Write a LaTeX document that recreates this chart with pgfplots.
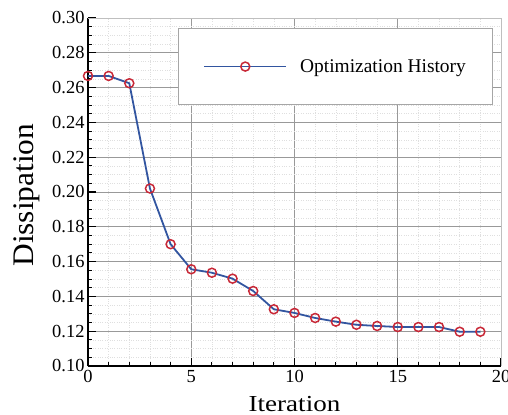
\documentclass[border=0pt]{standalone}
\usepackage{pgfplots}
\pgfplotsset{compat=1.18}
\usepackage{fontspec}
\setmainfont{Liberation Serif}
\definecolor{lblue}{RGB}{50,85,160}
\definecolor{mred}{RGB}{200,40,55}
\begin{document}
\begin{tikzpicture}
\path[use as bounding box] (-88bp,-49bp) rectangle (420bp,366bp);
\begin{axis}[
  scale only axis,
  width=413bp, height=348bp,
  xmin=0, xmax=20, ymin=0.10, ymax=0.30,
  xtick={0,5,10,15,20},
  ytick={0.10,0.12,0.14,0.16,0.18,0.20,0.22,0.24,0.26,0.28,0.30},
  yticklabel style={/pgf/number format/fixed, /pgf/number format/fixed zerofill, /pgf/number format/precision=2},
  /pgf/number format/assume math mode=true,
  minor x tick num=4, minor y tick num=3,
  tick align=inside,
  major tick length=8bp, minor tick length=4bp,
  tick style={black, line width=1.4pt},
  minor tick style={black, line width=0.9pt},
  axis x line*=bottom, axis y line*=left,
  axis line style={black, line width=2pt, -},
  grid=both,
  major grid style={gray!80, line width=0.6pt},
  minor grid style={gray!25, dotted, line width=0.5pt},
  ticklabel style={font=\fontsize{18.5}{20}\selectfont},
  xticklabel style={yshift=-1bp},
  xlabel={\scalebox{1.18}[1]{Iteration}},
  ylabel={\scalebox{1.05}[1]{Dissipation}},
  xlabel style={font=\fontsize{23}{25}\selectfont, at={(axis description cs:0.5,-0.1313)}, anchor=base, inner sep=0pt},
  ylabel style={font=\fontsize{30}{32}\selectfont, at={(axis description cs:-0.133,0.491)}, anchor=base},
  legend style={draw=gray!70, line width=0.8pt, fill=white, at={(90/413,1-10/348)}, anchor=north west,
    inner xsep=10bp, inner ysep=29bp, font=\fontsize{19.5}{21}\selectfont},
  legend cell align=left,
  legend image code/.code={\path (0bp,0bp); \draw[mark repeat=2,mark phase=2,#1] plot coordinates {(15bp,0bp) (56bp,0bp) (97bp,0bp)};},
  clip=false,
]
\draw[gray!50, line width=0.8pt] (rel axis cs:0,1) -- (rel axis cs:1,1) -- (rel axis cs:1,0);
\addplot[lblue, line width=1.8pt, mark=o, mark size=4.5bp, mark options={mred, fill=white, line width=1.5pt}]
coordinates {
(0,0.2667) (1,0.2667) (2,0.2625) (3,0.2020) (4,0.1700) (5,0.1556) (6,0.1536) (7,0.1502)
(8,0.1431) (9,0.1326) (10,0.1305) (11,0.1276) (12,0.1255) (13,0.1237) (14,0.1230)
(15,0.1224) (16,0.1224) (17,0.1224) (18,0.1197) (19,0.1197)
};
\addlegendentry{\hspace{11bp}Optimization History\rule{15bp}{0pt}}
\end{axis}
\end{tikzpicture}
\end{document}
